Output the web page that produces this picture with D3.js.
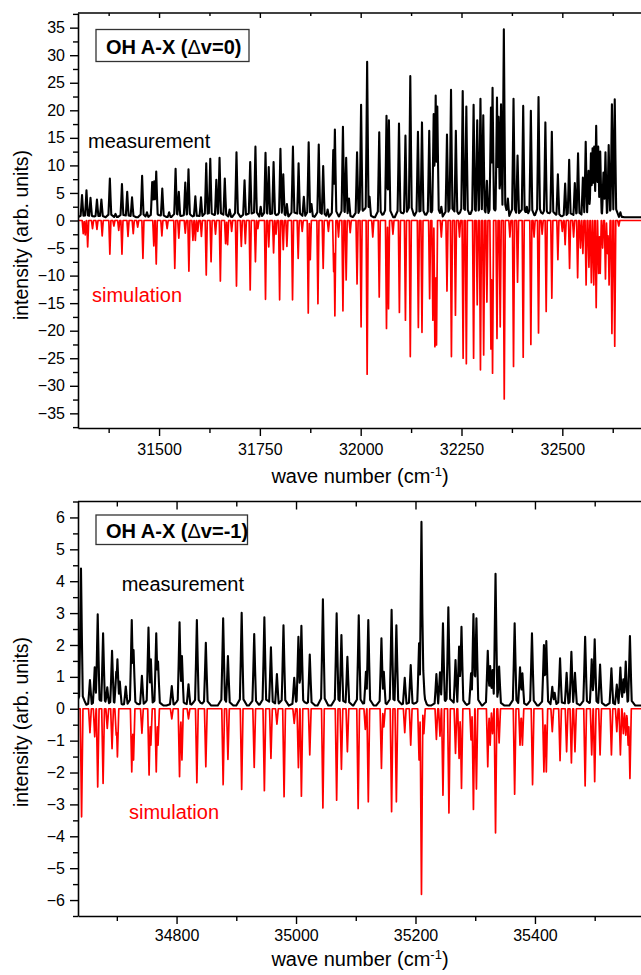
<!DOCTYPE html>
<html><head><meta charset="utf-8">
<script src="https://cdn.jsdelivr.net/npm/d3@7/dist/d3.min.js"></script>
<style>
body{margin:0;background:#fff}
svg{display:block}
text{font-family:Arial,'Liberation Sans',Helvetica,sans-serif}
</style></head>
<body><svg id="chart" width="641" height="975"></svg>
<script>
// ---------- DATA: upper panel (OH A-X, Δv=0) ----------
const topMeasWave = [31309,31320,31330,31346,31357,31378,31392,31408,31421,31433,31458,31470,31483,31488,31493,31508,31525,31541,31549,31565,31573,31590,31604,31617,31627,31642,31650,31663,31675,31692,31712,31726,31739,31752,31764,31772,31784,31801,31808,31817,31832,31846,31859,31871,31878,31896,31907,31918,31932,31936,31956,31964,31971,31991,32001,32016,32022,32046,32064,32070,32095,32111,32123,32142,32152,32170,32181,32186,32190,32200,32214,32224,32236,32253,32262,32280,32289,32297,32304,32313,32323,32327,32338,32342,32348,32355,32365,32379,32389,32403,32412,32422,32441,32458,32474,32489,32507,32517,32531,32539,32551,32558,32565,32571,32575,32579,32584,32589,32594,32602,32607,32615,32623,32630,32644];
const topMeasInt = [4.6,5.5,4.1,3.8,3.8,7.6,1.2,6.6,5.2,4.2,8.1,1.5,7.0,7.1,8.9,5.8,1.5,9.4,5.2,6.9,9.3,4.4,4.2,10.4,11.2,7.4,11.4,7.6,2.0,12.4,7.3,10.6,13.4,2.5,12.3,9.7,10.6,13.0,8.4,3.0,13.4,10.4,4.3,14.2,3.0,13.8,9.9,2.0,12.8,16.5,17.0,11.4,4.0,12.4,21.0,28.8,4.3,16.0,19.0,18.2,17.6,15.4,26.2,16.1,17.8,16.3,19.3,22.7,20.7,2.5,15.6,23.7,16.3,23.5,20.7,21.0,18.2,22.1,19.1,7.2,20.5,24.1,22.3,18.8,21.1,34.7,4.0,22.1,11.8,20.8,2.5,19.9,22.4,17.8,16.1,8.4,6.7,11.0,6.8,12.2,7.8,14.3,9.0,12.2,13.1,13.4,17.2,13.4,12.5,8.7,12.4,13.7,21.1,22.0,1.5];
const topSimWave = [31312,31317,31323,31335,31346,31359,31378,31388,31400,31408,31423,31436,31447,31460,31487,31493,31507,31520,31539,31549,31565,31574,31584,31590,31596,31605,31617,31629,31640,31652,31665,31670,31680,31692,31704,31714,31726,31739,31745,31764,31772,31784,31790,31799,31808,31817,31831,31845,31855,31870,31875,31894,31907,31920,31933,31936,31945,31956,31964,31974,31991,32001,32016,32030,32046,32064,32069,32080,32096,32111,32123,32143,32152,32171,32179,32184,32188,32200,32214,32225,32235,32245,32254,32262,32280,32289,32297,32305,32313,32323,32327,32338,32346,32356,32370,32379,32389,32403,32422,32430,32441,32450,32460,32474,32489,32500,32507,32518,32528,32538,32545,32551,32559,32566,32572,32578,32584,32590,32594,32600,32607,32612,32616,32623,32630,32640];
const topSimInt = [-2.4,-2.6,-4.8,-1.5,-1.6,-2.8,-6.1,-1.0,-1.8,-6.1,-2.9,-2.4,-1.2,-6.9,-4.6,-7.9,-2.8,-1.5,-8.7,-3.2,-2.3,-9.2,-3.6,-3.6,-2.0,-2.9,-9.9,-7.5,-2.5,-11.0,-4.2,-4.4,-2.0,-11.9,-4.7,-4.2,-12.6,-7.5,-1.5,-14.3,-4.8,-5.9,-2.5,-14.4,-5.3,-4.7,-14.4,-6.9,-2.0,-16.8,-7.1,-15.1,-8.7,-2.0,-9.3,-17.3,-3.0,-16.4,-10.8,-2.2,-11.5,-19.3,-27.9,-3.0,-13.9,-19.6,-16.0,-2.5,-16.7,-18.1,-24.7,-19.4,-20.3,-14.2,-18.1,-22.9,-22.6,-3.0,-12.8,-24.7,-17.2,-3.0,-25.0,-26.0,-25.0,-15.3,-27.1,-24.4,-14.8,-23.3,-27.7,-21.4,-19.3,-32.4,-3.0,-26.5,-11.2,-24.8,-22.5,-3.0,-20.4,-2.5,-16.5,-14.1,-7.1,-2.0,-4.4,-8.7,-3.0,-10.4,-5.0,-6.0,-11.7,-8.5,-11.3,-11.7,-15.8,-9.6,-9.6,-5.0,-10.6,-6.0,-11.7,-20.5,-22.8,-1.0];
const topXTicks = [31500,31750,32000,32250,32500];
const topXMinor = [31375,31625,31875,32125,32375,32625];
const topYTicks = [-35,-30,-25,-20,-15,-10,-5,0,5,10,15,20,25,30,35];
const topYMinor = [-37.5,-32.5,-27.5,-22.5,-17.5,-12.5,-7.5,-2.5,2.5,7.5,12.5,17.5,22.5,27.5,32.5,37.5];
const topRightTicks = [-8,-6,-4,-2,0,2,4,6,8];
const topRightMinor = [-7,-5,-3,-1,1,3,5,7];

// ---------- DATA: lower panel (OH A-X, Δv=-1) ----------
const botMeasWave = [34640,34655,34663,34668,34677,34684,34692,34699,34701,34705,34715,34725,34728,34742,34753,34757,34766,34769,34792,34805,34809,34820,34834,34849,34878,34886,34909,34930,34947,34958,34968,34979,34997,35004,35009,35023,35045,35068,35076,35086,35105,35117,35121,35143,35147,35160,35168,35182,35192,35206,35210,35213,35235,35241,35246,35255,35267,35273,35277,35293,35297,35302,35321,35325,35329,35334,35340,35366,35375,35379,35395,35415,35419,35429,35433,35442,35453,35461,35467,35484,35495,35500,35509,35528,35537,35543,35548,35552,35559];
const botMeasInt = [4.4,0.9,1.3,2.96,2.37,0.67,1.82,1.16,1.55,0.85,0.7,2.78,1.84,1.03,2.55,1.55,2.37,1.48,0.71,2.71,1.65,0.77,2.78,2.07,2.84,1.65,3.01,2.34,2.87,1.93,1.09,2.62,0.97,2.26,2.6,1.7,3.43,2.99,2.31,1.63,2.93,1.16,2.78,2.21,1.16,3.1,2.62,0.97,1.37,2.05,5.86,1.21,1.09,1.14,2.68,3.18,1.53,1.95,2.57,1.11,2.97,2.84,1.82,1.34,1.21,4.23,1.32,2.68,1.3,1.11,2.37,2.0,2.12,0.69,0.5,1.58,1.13,1.79,1.13,2.26,1.55,2.18,1.39,1.27,0.76,1.29,0.92,1.48,2.28];
const botSimWave = [34641,34655,34663,34668,34677,34684,34692,34699,34701,34725,34728,34742,34754,34757,34766,34769,34792,34805,34809,34820,34834,34849,34878,34886,34909,34930,34947,34958,34968,34980,34997,35004,35009,35023,35045,35068,35076,35086,35104,35116,35121,35143,35147,35160,35168,35182,35192,35206,35210,35214,35235,35241,35246,35256,35267,35273,35277,35293,35297,35302,35321,35325,35329,35334,35340,35366,35375,35379,35396,35415,35419,35429,35442,35453,35461,35467,35484,35495,35500,35509,35528,35537,35543,35548,35552,35556,35559];
const botSimInt = [-3.39,-0.75,-0.88,-2.45,-2.34,-0.62,-1.25,-0.83,-1.51,-1.98,-1.61,-0.77,-2.08,-1.14,-1.98,-1.14,-0.32,-2.13,-1.61,-0.32,-2.32,-1.82,-2.38,-1.59,-2.53,-1.84,-2.57,-1.56,-0.48,-2.76,-0.46,-1.85,-2.74,-1.45,-3.11,-2.87,-1.9,-1.35,-3.13,-0.65,-2.92,-1.87,-0.57,-3.23,-2.92,-0.75,-1.14,-1.61,-5.82,-0.78,-0.96,-0.86,-2.71,-3.27,-1.4,-1.56,-2.5,-0.98,-3.16,-2.52,-1.82,-1.14,-0.78,-3.89,-1.07,-2.68,-1.14,-1.14,-2.38,-1.98,-1.98,-0.72,-1.63,-1.35,-1.7,-1.35,-2.42,-1.45,-2.29,-1.45,-1.45,-0.72,-1.45,-0.78,-0.83,-1.14,-2.19];
const botXTicks = [34800,35000,35200,35400];
const botXMinor = [34700,34900,35100,35300,35500];
const botYTicks = [-6,-5,-4,-3,-2,-1,0,1,2,3,4,5,6];
const botYMinor = [-6.5,-5.5,-4.5,-3.5,-2.5,-1.5,-0.5,0.5,1.5,2.5,3.5,4.5,5.5,6.5];
const botRightTicks = [-10,-8,-6,-4,-2,0,2,4,6,8,10];
const botRightMinor = [-9,-7,-5,-3,-1,1,3,5,7,9];

// ---------- drawing ----------
const svg = d3.select('#chart');

// upper envelope of narrow line profiles (sharp tip + low broad foot) through the read peak tips
function spectrum(waves, vals, base, hw, foot, xd) {
  const xs = [xd[0], xd[1]];
  waves.forEach(w => xs.push(w - 3 * hw, w - hw, w - 0.5 * hw, w, w + 0.5 * hw, w + hw, w + 3 * hw));
  xs.sort((a, b) => a - b);
  return xs.map(x => {
    let y = base;
    waves.forEach((w, i) => {
      const d = Math.abs(x - w);
      if (d < 3 * hw) {
        const f = Math.max(d < hw ? 1 - d / hw : 0, foot * (1 - d / (3 * hw)));
        const t = base + (vals[i] - base) * f;
        if (Math.abs(t - base) > Math.abs(y - base)) y = t;
      }
    });
    return [x, y];
  });
}

function panel(c) {
  const g = svg.append('g');
  const x = d3.scaleLinear().domain(c.xDom).range([c.left, c.right]);
  const y = d3.scaleLinear().domain(c.yDom).range([c.bottom, c.top]);
  const yr = d3.scaleLinear().domain(c.rDom).range([c.bottom, c.top]);
  const id = 'clip' + c.name;
  svg.append('clipPath').attr('id', id).append('rect')
    .attr('x', c.left).attr('y', c.top).attr('width', c.right - c.left).attr('height', c.bottom - c.top);

  const line = d3.line().x(d => x(d[0])).y(d => y(d[1]));
  const data = g.append('g').attr('clip-path', `url(#${id})`);
  data.append('path').attr('d', line(spectrum(c.simW, c.simV, 0, c.simHw, 0, c.xDom)))
    .attr('fill', 'none').attr('stroke', '#ff0000').attr('stroke-width', 1.7).attr('stroke-linejoin', 'round');
  data.append('path').attr('d', line(spectrum(c.measW, c.measV, c.measBase, c.measHw, 0.1, c.xDom)))
    .attr('fill', 'none').attr('stroke', '#000').attr('stroke-width', 2.1).attr('stroke-linejoin', 'round');

  const axStyle = sel => {
    sel.selectAll('path.domain').attr('stroke', '#000').attr('stroke-width', 1.6);
    sel.selectAll('line').attr('stroke', '#000').attr('stroke-width', 1.4);
    sel.selectAll('text').attr('font-size', 16).attr('fill', '#000')
      .style('font-family', "Arial,'Liberation Sans',sans-serif");
  };
  // bottom axis
  g.append('g').attr('transform', `translate(0,${c.bottom})`)
    .call(d3.axisBottom(x).tickValues(c.xTicks).tickFormat(d3.format('d')).tickSizeInner(8).tickSizeOuter(0).tickPadding(c.xPad)).call(axStyle);
  g.append('g').attr('transform', `translate(0,${c.bottom})`)
    .call(d3.axisBottom(x).tickValues(c.xMinor).tickFormat('').tickSizeInner(5).tickSizeOuter(0)).call(axStyle)
    .select('path.domain').remove();
  // top axis (inward ticks)
  g.append('g').attr('transform', `translate(0,${c.top})`)
    .call(d3.axisBottom(x).tickValues(c.xTicks).tickFormat('').tickSizeInner(c.topMaj).tickSizeOuter(0)).call(axStyle)
    .selectAll('path.domain').attr('d', `M${c.left},0H641`);
  g.append('g').attr('transform', `translate(0,${c.top})`)
    .call(d3.axisBottom(x).tickValues(c.xMinor).tickFormat('').tickSizeInner(c.topMin).tickSizeOuter(0)).call(axStyle)
    .select('path.domain').remove();
  // left axis
  g.append('g').attr('transform', `translate(${c.left},0)`)
    .call(d3.axisLeft(y).tickValues(c.yTicks).tickFormat(d3.format('d')).tickSizeInner(8).tickSizeOuter(0).tickPadding(5)).call(axStyle);
  g.append('g').attr('transform', `translate(${c.left},0)`)
    .call(d3.axisLeft(y).tickValues(c.yMinor).tickFormat('').tickSizeInner(5).tickSizeOuter(0)).call(axStyle)
    .select('path.domain').remove();
  // right axis (just outside the picture; only its inward ticks show)
  g.append('g').attr('transform', `translate(${c.right},0)`)
    .call(d3.axisLeft(yr).tickValues(c.rTicks).tickFormat('').tickSizeInner(-10).tickSizeOuter(0)).call(axStyle);
  g.append('g').attr('transform', `translate(${c.right},0)`)
    .call(d3.axisLeft(yr).tickValues(c.rMinor).tickFormat('').tickSizeInner(-8.5).tickSizeOuter(0)).call(axStyle)
    .select('path.domain').remove();

  // axis titles
  const xt = g.append('text').attr('x', 360).attr('y', c.xTitleY)
    .attr('text-anchor', 'middle').attr('font-size', 20).attr('fill', '#000');
  xt.append('tspan').text('wave number (cm');
  xt.append('tspan').attr('font-size', 13).attr('dy', -7).text('-1');
  xt.append('tspan').attr('dy', 7).text(')');
  g.append('text').attr('transform', `translate(28,${c.yTitleC}) rotate(-90)`)
    .attr('text-anchor', 'middle').attr('font-size', 19.5).attr('fill', '#000')
    .text('intensity (arb. units)');

  // title box
  g.append('rect').attr('x', c.box[0]).attr('y', c.box[1]).attr('width', c.box[2]).attr('height', c.box[3])
    .attr('fill', '#fff').attr('stroke', '#333').attr('stroke-width', 1.3);
  const tt = g.append('text').attr('x', c.box[0] + 10).attr('y', c.titleY)
    .attr('font-size', 20).attr('font-weight', 'bold').attr('fill', '#000');
  tt.append('tspan').text('OH A-X (');
  tt.append('tspan').attr('font-weight', 'normal').text('Δ');
  tt.append('tspan').text(c.titleTail);

  g.append('text').attr('x', c.measLab[0]).attr('y', c.measLab[1]).attr('font-size', 20).attr('fill', '#000').text('measurement');
  g.append('text').attr('x', c.simLab[0]).attr('y', c.simLab[1]).attr('font-size', 20).attr('fill', '#ff0000').text('simulation');
}

panel({
  name: 'top', left: 78, right: 642, top: 13, bottom: 428,
  xDom: [31299, 32697.6], yDom: [-37.66, 37.66], rDom: [-8.01, 8.01],
  xTicks: topXTicks, xMinor: topXMinor, yTicks: topYTicks, yMinor: topYMinor,
  rTicks: topRightTicks, rMinor: topRightMinor, topMaj: 5, topMin: 3, xPad: 8,
  measW: topMeasWave, measV: topMeasInt, measBase: 0.6, measHw: 3.5,
  simW: topSimWave, simV: topSimInt, simHw: 2.6,
  xTitleY: 483, yTitleC: 235,
  box: [96, 29.5, 153, 32], titleY: 53.5, titleTail: 'v=0)',
  measLab: [88, 148], simLab: [92, 302]
});
panel({
  name: 'bot', left: 78, right: 642, top: 501.5, bottom: 916,
  xDom: [34635, 35579.2], yDom: [-6.5, 6.5], rDom: [-10, 10],
  xTicks: botXTicks, xMinor: botXMinor, yTicks: botYTicks, yMinor: botYMinor,
  rTicks: botRightTicks, rMinor: botRightMinor, topMaj: 8, topMin: 5, xPad: 6,
  measW: botMeasWave, measV: botMeasInt, measBase: 0.1, measHw: 3.0,
  simW: botSimWave, simV: botSimInt, simHw: 2.3,
  xTitleY: 966, yTitleC: 722,
  box: [96, 515, 151.5, 29.5], titleY: 538, titleTail: 'v=-1)',
  measLab: [121.7, 590.7], simLab: [129, 819]
});
</script>
</body></html>
